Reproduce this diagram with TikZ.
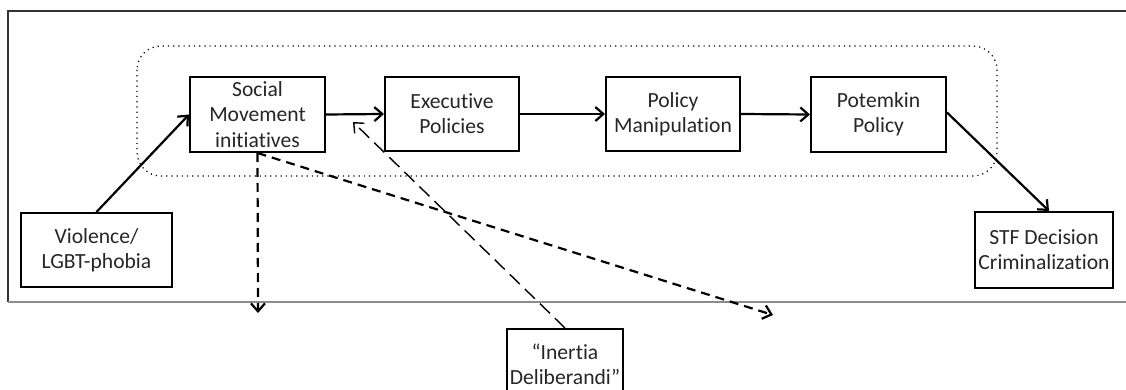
\documentclass[tikz,border=0pt]{standalone}
\usepackage{fontspec}
\setmainfont[Ligatures=NoCommon]{Carlito}
\usetikzlibrary{arrows.meta}
\tikzset{
  box/.style={draw, line width=1pt, align=center, inner sep=0pt, text=black!85,
    font=\fontsize{10.8pt}{12.6pt}\selectfont},
  solidarrow/.style={line width=1.1pt, -{Straight Barb[length=4pt,width=7pt,line width=1.1pt]}},
  dasharrow/.style={line width=1.1pt, dash pattern=on 4.5pt off 3pt,
    -{Straight Barb[length=4pt,width=7pt,line width=1.1pt]}},
  longdasharrow/.style={line width=0.7pt, dash pattern=on 7pt off 3.5pt,
    -{Straight Barb[length=4pt,width=7pt,line width=0.7pt]}},
}
\begin{document}
\begin{tikzpicture}[x=0.5pt,y=-0.5pt]
\useasboundingbox (0,0) rectangle (1126,390);
\clip (0,0) rectangle (1126,390);
% outer frame (open at right)
\draw[line width=0.7pt, black!80] (1130,11) -- (8,11) -- (8,302);
\draw[line width=0.7pt, black!45] (8,302) -- (1130,302);
% dotted group
\draw[line width=0.6pt, dotted, rounded corners=12pt] (137,46) rectangle (997,176);
% nodes
\node[box, minimum width=67.5pt, minimum height=37.5pt] (sm) at (257.5,114.5) {Social\\Movement\\initiatives};
\node[box, minimum width=67pt, minimum height=37pt] (ex) at (452,114) {Executive\\Policies};
\node[box, minimum width=67pt, minimum height=37pt] (pm) at (673,114) {Policy\\Manipulation};
\node[box, minimum width=67.5pt, minimum height=37.5pt] (pt) at (878.5,114.5) {Potemkin\\Policy};
\node[box, minimum width=69pt, minimum height=38pt] (stf) at (1044,250) {STF Decision\\Criminalization};
\node[box, minimum width=75.5pt, minimum height=37pt] (vio) at (96.5,250) {Violence/\\LGBT-phobia};
\node[box, minimum width=58pt, minimum height=35pt] (in) at (565,364) {“Inertia\\Deliberandi”};
% free ends
\coordinate (down) at (258,313);
\coordinate (diag) at (773,315);
\coordinate (inend) at (353,122);
% connectors
\draw[solidarrow] (vio.north) -- (sm.west);
\draw[solidarrow] (sm.east) -- (ex.west);
\draw[solidarrow] (ex.east) -- (pm.west);
\draw[solidarrow] (pm.east) -- (pt.west);
\draw[solidarrow] ([yshift=1pt]pt.east) -- ([xshift=2.5pt]stf.north);
\draw[dasharrow] (sm.south) -- (down);
\draw[dasharrow] (sm.south) -- (diag);
\draw[longdasharrow] (in.north) -- (inend);
\end{tikzpicture}
\end{document}
